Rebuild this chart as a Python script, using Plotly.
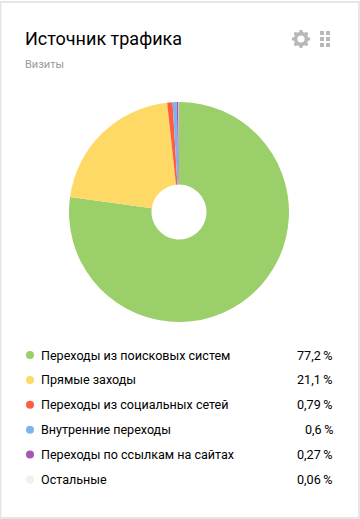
import math
import plotly.graph_objects as go

categories = ["Переходы из поисковых систем", "Прямые заходы", "Переходы из социальных сетей",
              "Внутренние переходы", "Переходы по ссылкам на сайтах", "Остальные"]
values = [77.2, 21.1, 0.79, 0.6, 0.27, 0.06]
value_labels = ["77,2\u2009%", "21,1\u2009%", "0,79\u2009%", "0,6\u2009%", "0,27\u2009%", "0,06\u2009%"]
colors = ["#9bcf69", "#ffd966", "#ff5c40", "#7ab5eb", "#a855b5", "#f0f0ee"]

W, H = 360, 519
FONT = "Roboto, Arial, sans-serif"
fx = lambda x: x / W
fy = lambda y: 1 - y / H

fig = go.Figure(go.Pie(
    values=values, labels=categories, hole=0.25, sort=False, direction="clockwise", rotation=0,
    marker=dict(colors=colors, line=dict(width=0)), textinfo="none", hoverinfo="label+percent",
    showlegend=False,
    domain=dict(x=[fx(69), fx(289)], y=[fy(322), fy(102)]),
))

shapes = [dict(type="rect", xref="paper", yref="paper", x0=fx(0.5), x1=fx(359), y0=fy(518), y1=fy(2),
               line=dict(color="#e6e6e6", width=2), fillcolor="white", layer="below")]
annotations = []

def text(x, y, s, size, color, anchor="left"):
    annotations.append(dict(xref="paper", yref="paper", x=fx(x), y=fy(y), text=s, showarrow=False,
                            xanchor=anchor, yanchor="middle", xshift=-2 if anchor == "left" else 2,
                            font=dict(family=FONT, size=size, color=color)))

text(25, 38, "Источник трафика", 18, "#000000")
text(25, 64, "Визиты", 11, "#999999")

for i, (c, v, col) in enumerate(zip(categories, value_labels, colors)):
    y = 355 + i * 24.9
    shapes.append(dict(type="circle", xref="paper", yref="paper", x0=fx(26), x1=fx(34), y0=fy(y + 4), y1=fy(y - 4),
                       fillcolor=col, line=dict(width=0)))
    text(41, y, c, 12.55, "#000000")
    text(333, y, v, 12.6, "#000000", "right")

# gear icon
cx, cy = 301, 39
pts = []
for k in range(8):
    a = k * math.pi / 4
    for da, r in ((-0.26, 7.2), (-0.14, 9.2), (0.14, 9.2), (0.26, 7.2)):
        pts.append((cx + r * math.cos(a + da), cy + r * math.sin(a + da)))
path = "M " + " L ".join(f"{fx(px):.5f},{fy(py):.5f}" for px, py in pts) + " Z"
shapes.append(dict(type="path", xref="paper", yref="paper", path=path, fillcolor="#b8b8b8", line=dict(width=0)))
shapes.append(dict(type="circle", xref="paper", yref="paper", x0=fx(cx - 3.6), x1=fx(cx + 3.6), y0=fy(cy + 3.6), y1=fy(cy - 3.6),
                   fillcolor="white", line=dict(width=0)))
# grid icon
for row in range(3):
    for col in range(2):
        x0, y0 = 320 + col * 6, 31 + row * 6
        shapes.append(dict(type="rect", xref="paper", yref="paper", x0=fx(x0), x1=fx(x0 + 4), y0=fy(y0 + 4), y1=fy(y0),
                           fillcolor="#b8b8b8", line=dict(width=0)))

fig.update_layout(width=W, height=H, margin=dict(l=0, r=0, t=0, b=0), paper_bgcolor="white",
                  shapes=shapes, annotations=annotations)
fig.write_html("out.html", config=dict(displayModeBar=False),
               post_script="document.body.style.margin='0';document.documentElement.style.overflow='hidden';")
